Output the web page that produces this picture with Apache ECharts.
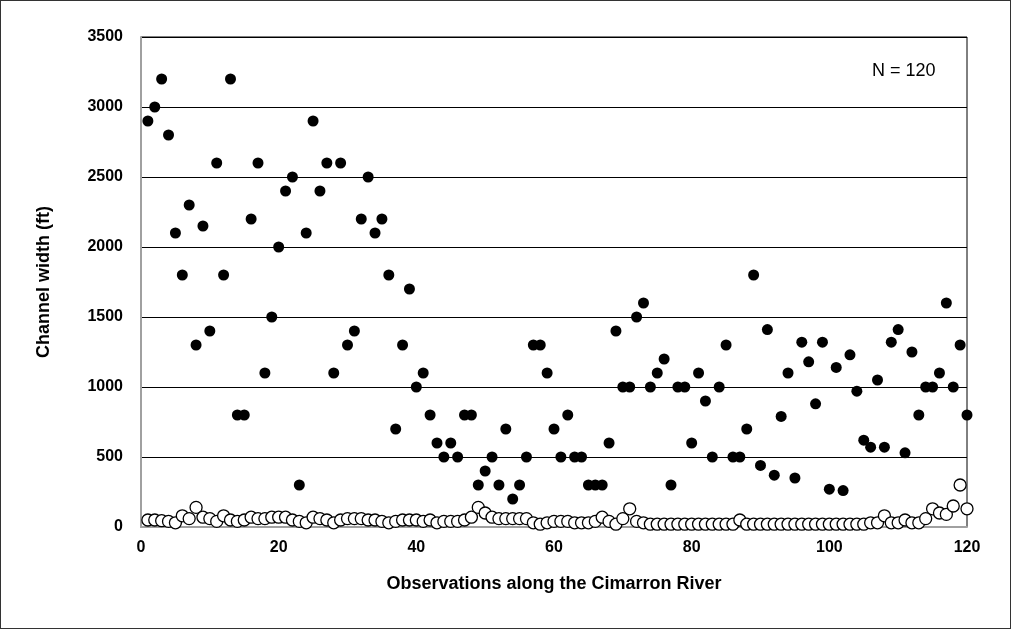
<!DOCTYPE html>
<html><head><meta charset="utf-8">
<script src="https://cdn.jsdelivr.net/npm/echarts@6/dist/echarts.min.js"></script>
<style>html,body{margin:0;padding:0;background:#fff}#c{width:1011px;height:629px;box-sizing:border-box;border:1px solid #333}</style>
</head><body><div id="c"></div>
<script>
var filled = [2900,3000,3200,2800,2100,1800,2300,1300,2150,1400,2600,1800,3200,800,800,2200,2600,1100,1500,2000,2400,2500,300,2100,2900,2400,2600,1100,2600,1300,1400,2200,2500,2100,2200,1800,700,1300,1700,1000,1100,800,600,500,600,500,800,800,300,400,500,300,700,200,300,500,1300,1300,1100,700,500,800,500,500,300,300,300,600,1400,1000,1000,1500,1600,1000,1100,1200,300,1000,1000,600,1100,900,500,1000,1300,500,500,700,1800,440,1410,370,790,1100,350,1320,1180,880,1320,270,1140,260,1230,970,620,570,1050,570,1320,1410,530,1250,800,1000,1000,1100,1600,1000,1300,800];
var open = [50,50,45,40,30,80,60,140,70,60,40,80,50,40,50,70,60,60,70,70,70,50,40,30,70,60,50,30,50,60,60,60,50,50,40,30,40,50,50,50,40,50,30,40,40,40,50,70,140,100,70,60,60,60,60,60,30,20,30,40,40,40,30,30,30,40,70,40,20,60,130,40,30,20,20,20,20,20,20,20,20,20,20,20,20,20,50,20,20,20,20,20,20,20,20,20,20,20,20,20,20,20,20,20,20,30,30,80,30,30,50,30,30,60,130,100,90,150,300,130];
var xTicks = [0,20,40,60,80,100,120];
function pts(a){return a.map(function(v,i){return [i+1,v];});}
var chart = echarts.init(document.getElementById('c'));
chart.setOption({
  animation:false,
  grid:{left:140,right:43,top:36,bottom:101,show:true,borderColor:'#000',borderWidth:1},
  xAxis:{type:'value',min:0,max:120,interval:20,
    name:'Observations along the Cimarron River',nameLocation:'middle',nameGap:48,
    nameTextStyle:{fontFamily:'Liberation Sans',fontWeight:'bold',fontSize:18,color:'#000'},
    axisLine:{show:true,lineStyle:{color:'#a0a0a0',width:2}},
    axisTick:{show:false},splitLine:{show:false},
    axisLabel:{fontFamily:'Liberation Sans',fontWeight:'bold',fontSize:16,color:'#000',margin:13,
      formatter:function(v){return String(v);}}},
  yAxis:{type:'value',min:0,max:3500,interval:500,
    name:'Channel width (ft)',nameLocation:'middle',nameGap:88,
    nameTextStyle:{fontFamily:'Liberation Sans',fontWeight:'bold',fontSize:18,color:'#000'},
    axisLine:{show:true,lineStyle:{color:'#a0a0a0',width:2}},
    axisTick:{show:false},
    splitLine:{show:true,lineStyle:{color:'#000',width:1}},
    axisLabel:{fontFamily:'Liberation Sans',fontWeight:'bold',fontSize:16,color:'#000',margin:18,
      formatter:function(v){return String(v);}}},
  graphic:[{type:'text',left:871,top:61,style:{text:'N = 120',font:'18px "Liberation Sans"',fill:'#000'}}],
  series:[
    {type:'scatter',data:pts(open),symbol:'circle',symbolSize:12,z:2,
     itemStyle:{color:'#fff',borderColor:'#000',borderWidth:1.3,opacity:1}},
    {type:'scatter',data:pts(filled),symbol:'circle',symbolSize:11,z:3,
     itemStyle:{color:'#000',opacity:1}}
  ]
});
</script></body></html>
